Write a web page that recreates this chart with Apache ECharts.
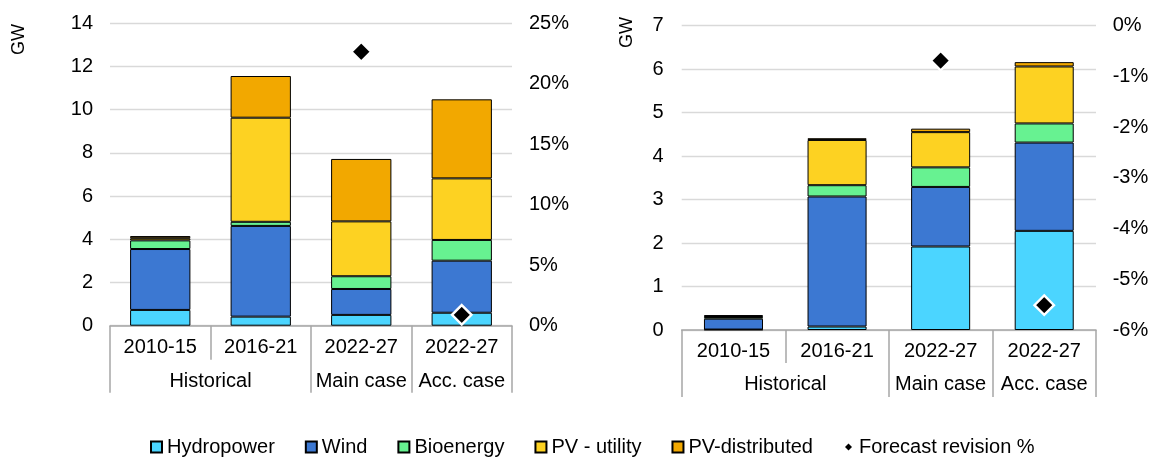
<!DOCTYPE html>
<html>
<head>
<meta charset="utf-8">
<script src="https://cdn.jsdelivr.net/npm/echarts@6/dist/echarts.min.js"></script>
<style>
  html, body { margin: 0; padding: 0; background: #fff; }
  #chart { width: 1153px; height: 457px; }
</style>
</head>
<body>
<div id="chart"></div>
<script>
// Periods on the bottom axis and the scenario groups beneath them
const periods = ['2010-15', '2016-21', '2022-27', '2022-27'];
const groupNames = ['Historical', 'Main case', 'Acc. case'];
const groupSpans = [2, 1, 1];

// Left panel: capacity additions (GW) and forecast revision (%)
const hydroLeft   = [0.73, 0.42, 0.50, 0.60];
const windLeft    = [2.82, 4.20, 1.20, 2.41];
const bioLeft     = [0.40, 0.19, 0.59, 0.96];
const pvUtilLeft  = [0.10, 4.82, 2.54, 2.85];
const pvDistLeft  = [0.10, 1.93, 2.89, 3.66];
const revisionLeft = [null, null, 22.65, 0.9];

// Right panel: capacity additions (GW) and forecast revision (%)
const hydroRight   = [0.01, 0.08, 1.92, 2.28];
const windRight    = [0.25, 2.99, 1.37, 2.03];
const bioRight     = [0.04, 0.26, 0.45, 0.44];
const pvUtilRight  = [0.02, 1.04, 0.81, 1.31];
const pvDistRight  = [0.02, 0.04, 0.08, 0.10];
const revisionRight = [null, null, -0.69, -5.51];

// Axis ranges
const gwLeft = { min: 0, max: 14, interval: 2 };
const pctLeft = { min: 0, max: 25, interval: 5 };
const gwRight = { min: 0, max: 7, interval: 1 };
const pctRight = { min: -6, max: 0, interval: 1 };

const seriesNames = ['Hydropower', 'Wind', 'Bioenergy', 'PV - utility', 'PV-distributed'];
const seriesColors = ['#4BD5FF', '#3C78D2', '#67F291', '#FDD222', '#F2A800'];
const revisionName = 'Forecast revision %';

const FONT = 'Liberation Sans, Arial, sans-serif';
const TEXT = '#000';
const AXIS_GRAY = '#A6A6A6';
const GRID_GRAY = '#D9D9D9';

// Group axis: 2N+1 boundary points, labels at group centres, long ticks at group edges
const nHalf = periods.length * 2 + 1;
const groupLabelAt = {};
const groupEdges = new Set([0]);
let start = 0;
groupNames.forEach((g, i) => {
  groupLabelAt[2 * start + groupSpans[i]] = g;
  start += groupSpans[i];
  groupEdges.add(2 * start);
});
const halfSlots = Array.from({ length: nHalf }, (_, i) => 'h' + i);

function makeXAxes(gridIndex, labelMargin, groupMargin, shortTick, longTick) {
  return [
    {
      type: 'category', gridIndex, data: periods, position: 'bottom',
      axisLine: { onZero: false, lineStyle: { color: AXIS_GRAY, width: 1.5 } },
      axisTick: { show: true, length: shortTick, interval: 0, lineStyle: { color: AXIS_GRAY, width: 1.5 } },
      axisLabel: { interval: 0, margin: labelMargin, color: TEXT, fontSize: 20, fontFamily: FONT, lineHeight: 20 },
      splitLine: { show: false }
    },
    {
      type: 'category', gridIndex, data: halfSlots, position: 'bottom', boundaryGap: false,
      axisLine: { show: false, onZero: false },
      axisTick: {
        show: true, length: longTick,
        interval: (idx) => groupEdges.has(idx),
        lineStyle: { color: AXIS_GRAY, width: 1.5 }
      },
      axisLabel: {
        interval: (idx) => groupLabelAt[idx] !== undefined,
        formatter: (v, idx) => groupLabelAt[idx] || '',
        margin: groupMargin, color: TEXT, fontSize: 20, fontFamily: FONT, lineHeight: 20
      },
      splitLine: { show: false }
    }
  ];
}

function makeYAxes(gridIndex, gw, pct, leftMargin, rightMargin) {
  return [
    {
      type: 'value', gridIndex, position: 'left',
      min: gw.min, max: gw.max, interval: gw.interval,
      axisLine: { show: false, onZero: false }, axisTick: { show: false },
      axisLabel: { color: TEXT, fontSize: 20, fontFamily: FONT, margin: leftMargin },
      splitLine: { show: true, lineStyle: { color: GRID_GRAY, width: 1.3 } }
    },
    {
      type: 'value', gridIndex, position: 'right',
      min: pct.min, max: pct.max, interval: pct.interval,
      axisLine: { show: false, onZero: false }, axisTick: { show: false },
      axisLabel: { color: TEXT, fontSize: 20, fontFamily: FONT, margin: rightMargin, formatter: '{value}%' },
      splitLine: { show: false }
    }
  ];
}

function makeSeries(xBase, yBase, stackName, barWidth, values, revision) {
  const bars = values.map((vals, i) => ({
    name: seriesNames[i],
    type: 'bar',
    stack: stackName,
    xAxisIndex: xBase, yAxisIndex: yBase,
    barWidth: barWidth,
    data: vals,
    itemStyle: { color: seriesColors[i], borderColor: '#000', borderWidth: 1 },
    emphasis: { disabled: true }
  }));
  bars.push({
    name: revisionName,
    type: 'scatter',
    xAxisIndex: xBase, yAxisIndex: yBase + 1,
    symbol: 'diamond', symbolSize: 19.5,
    data: revision,
    z: 5,
    itemStyle: { color: '#000', opacity: 1, borderColor: '#fff', borderWidth: 2.4 },
    emphasis: { disabled: true }
  });
  return bars;
}

const diamondIcon = 'image://data:image/svg+xml;utf8,' + encodeURIComponent(
  '<svg xmlns="http://www.w3.org/2000/svg" width="11" height="11" viewBox="0 0 11 11">' +
  '<polygon points="5.5,2 9,5.5 5.5,9 2,5.5" fill="#000"/></svg>'
);

const chart = echarts.init(document.getElementById('chart'), null, { renderer: 'canvas' });

chart.setOption({
  animation: false,
  backgroundColor: '#fff',
  textStyle: { fontFamily: FONT },
  grid: [
    { left: 110, right: 641, top: 23.3, bottom: 131.3, containLabel: false },
    { left: 681.7, right: 57, top: 25.6, bottom: 127, containLabel: false }
  ],
  xAxis: [
    ...makeXAxes(0, 12, 46, 34, 67),
    ...makeXAxes(1, 11, 44, 33, 67)
  ],
  yAxis: [
    ...makeYAxes(0, gwLeft, pctLeft, 17, 17),
    ...makeYAxes(1, gwRight, pctRight, 18, 16.7)
  ],
  legend: {
    left: 145, top: 432,
    itemWidth: 11, itemHeight: 11, itemGap: 30,
    textStyle: { color: TEXT, fontSize: 20, fontFamily: FONT },
    data: [
      ...seriesNames.map(n => ({ name: n, icon: 'rect' })),
      { name: revisionName, icon: diamondIcon }
    ]
  },
  graphic: [
    { type: 'text', left: 10, top: 24, rotation: Math.PI / 2,
      style: { text: 'GW', fill: TEXT, font: '18px Liberation Sans, Arial, sans-serif' } },
    { type: 'text', left: 618, top: 17, rotation: Math.PI / 2,
      style: { text: 'GW', fill: TEXT, font: '18px Liberation Sans, Arial, sans-serif' } }
  ],
  series: [
    ...makeSeries(0, 0, 'left', '60%', [hydroLeft, windLeft, bioLeft, pvUtilLeft, pvDistLeft], revisionLeft),
    ...makeSeries(2, 2, 'right', '57%', [hydroRight, windRight, bioRight, pvUtilRight, pvDistRight], revisionRight)
  ]
});
</script>
</body>
</html>
